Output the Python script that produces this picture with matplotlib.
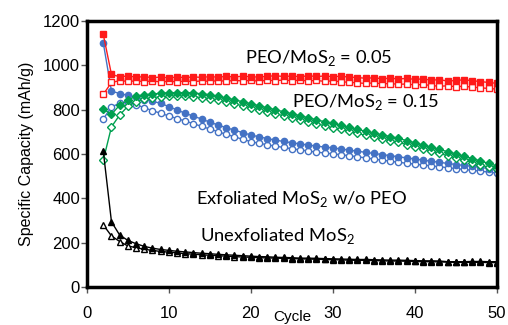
import matplotlib
matplotlib.use("Agg")
import matplotlib.pyplot as plt

plt.rcParams['font.family'] = ['Liberation Sans', 'DejaVu Sans']
plt.rcParams['mathtext.fontset'] = 'custom'
plt.rcParams['mathtext.rm'] = 'Lato'

# cycle numbers
cycles = list(range(2, 51))

# PEO/MoS2 = 0.05 (red)
red_filled = [1139, 958, 948, 951, 946, 948, 944, 946, 943, 946, 944, 947, 945, 948, 946, 949, 947, 950, 948,
              946, 950, 952, 949, 951, 948, 952, 949, 951, 948, 950, 946, 944, 941, 943, 939, 941, 938, 940,
              936, 938, 932, 935, 928, 931, 934, 930, 926, 922, 918]
red_open = [868, 922, 930, 927, 929, 926, 928, 925, 927, 925, 928, 926, 929, 927, 930, 928, 931, 929, 931,
            928, 932, 930, 933, 930, 932, 929, 931, 927, 929, 925, 923, 920, 918, 920, 916, 917, 914, 915,
            911, 913, 908, 905, 907, 903, 905, 901, 898, 895, 892]

# exfoliated MoS2 w/o PEO (blue)
blue_filled = [1101, 883, 872, 864, 855, 845, 837, 828, 813, 798, 783, 770, 757, 743, 730, 718, 707, 696, 685,
               677, 669, 662, 656, 650, 645, 640, 635, 631, 627, 622, 617, 612, 607, 602, 597, 592, 587, 582,
               577, 572, 567, 562, 557, 552, 548, 544, 539, 534, 530]
blue_open = [757, 812, 828, 832, 822, 808, 795, 783, 771, 759, 748, 736, 724, 712, 700, 688, 677, 666, 655,
             648, 641, 635, 629, 623, 618, 613, 608, 604, 600, 596, 592, 587, 582, 577, 572, 567, 562, 558,
             554, 550, 546, 542, 538, 534, 530, 526, 522, 518, 514]

# PEO/MoS2 = 0.15 (green)
green_filled = [802, 778, 820, 843, 860, 866, 870, 873, 875, 876, 876, 874, 871, 866, 860, 852, 844, 835, 826,
                817, 808, 799, 790, 781, 772, 763, 754, 745, 737, 728, 719, 710, 702, 694, 686, 678, 670, 660,
                650, 640, 630, 620, 610, 600, 590, 579, 568, 557, 546]
green_open = [571, 722, 775, 815, 835, 848, 854, 858, 860, 861, 861, 858, 854, 849, 843, 835, 826, 817, 808,
              799, 790, 781, 772, 763, 754, 745, 736, 727, 718, 710, 701, 692, 684, 676, 668, 660, 652, 642,
              632, 622, 612, 602, 592, 582, 572, 561, 550, 540, 530]

# unexfoliated MoS2 (black)
black_filled = [613, 294, 234, 210, 195, 183, 175, 169, 165, 161, 158, 155, 152, 150, 147, 145, 143, 141, 139,
                137, 136, 134, 133, 132, 130, 130, 129, 128, 127, 126, 125, 124, 124, 123, 122, 121, 121, 120,
                119, 118, 118, 117, 114, 114, 114, 115, 115, 114, 114]
black_open = [280, 230, 205, 185, 177, 170, 165, 160, 157, 154, 150, 148, 145, 143, 141, 139, 137, 135, 134,
              132, 131, 130, 129, 128, 127, 126, 125, 124, 123, 122, 121, 120, 120, 119, 118, 117, 117, 116,
              115, 114, 114, 113, 112, 111, 111, 111, 111, 110, 110]

fig = plt.figure(figsize=(5.08, 3.25), dpi=100)
ax = fig.add_axes([0.171, 0.117, 0.807, 0.819])

blue = '#4472C4'
red = '#FF1A1A'
green = '#00A050'
ms = 4.5
lw = 1.0

ax.plot(cycles, blue_open, '-o', color=blue, mfc='white', mec=blue, ms=ms, lw=lw, mew=1)
ax.plot(cycles, blue_filled, '-o', color=blue, ms=ms, lw=lw)
ax.plot(cycles, green_open, '-D', color=green, mfc='white', mec=green, ms=ms - 0.5, lw=lw, mew=1)
ax.plot(cycles, green_filled, '-D', color=green, ms=ms - 0.5, lw=lw)
ax.plot(cycles, red_open, '-s', color=red, mfc='white', mec=red, ms=ms, lw=lw, mew=1)
ax.plot(cycles, red_filled, '-s', color=red, ms=ms, lw=lw)
ax.plot(cycles, black_open, '-^', color='black', mfc='white', ms=ms + 0.5, lw=lw, mew=1)
ax.plot(cycles, black_filled, '-^', color='black', ms=ms + 0.5, lw=lw)

ax.set_xlim(0, 50)
ax.set_ylim(0, 1200)
ax.set_xticks([0, 10, 20, 30, 40, 50])
ax.set_yticks([0, 200, 400, 600, 800, 1000, 1200])
for s in ax.spines.values():
    s.set_linewidth(2.5)
ax.tick_params(axis='both', labelsize=12, length=4, width=1, color='#555555')
ax.tick_params(axis='x', pad=10)
ax.tick_params(axis='y', pad=1)

ax.set_ylabel('Specific Capacity (mAh/g)', fontsize=11.5, labelpad=6)
ax.set_xlabel('Cycle', fontsize=11)
ax.xaxis.set_label_coords(0.5, -0.088)

tfont = dict(family=['Lato', 'DejaVu Sans'], fontsize=13.2, va='center', ha='left')
ax.text(19.3, 1032, r'PEO/MoS$_\mathregular{2}$ = 0.05', **tfont)
ax.text(25.0, 833, r'PEO/MoS$_\mathregular{2}$ = 0.15', **tfont)
ax.text(13.3, 397, r'Exfoliated MoS$_\mathregular{2}$ w/o PEO', **tfont)
ax.text(13.8, 230, r'Unexfoliated MoS$_\mathregular{2}$', **tfont)

fig.savefig('out.png', dpi=100)
